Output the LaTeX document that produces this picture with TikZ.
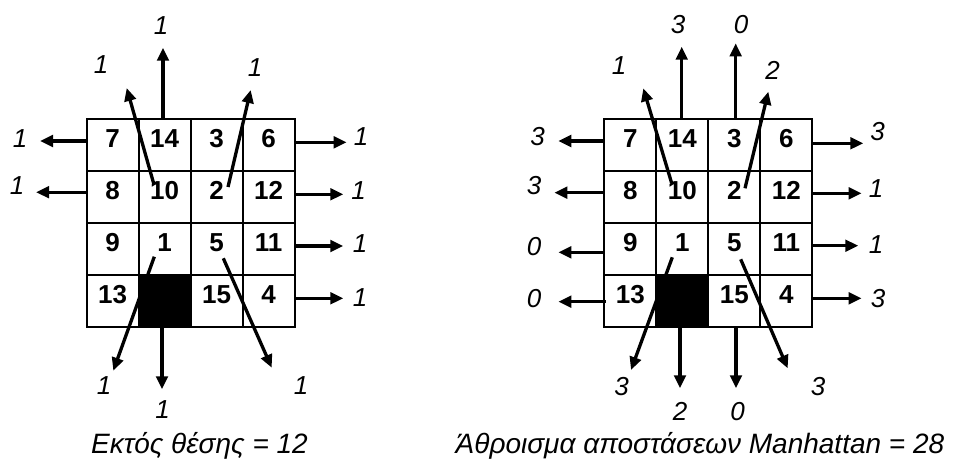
\documentclass[tikz,border=0pt]{standalone}
\usepackage{fontspec}
\setmainfont{Liberation Sans}
\usepackage{tikz}
\usetikzlibrary{arrows.meta}

\begin{document}
\begin{tikzpicture}[x=1pt,y=-1pt,
  cell/.style={draw,line width=2pt,minimum size=52pt,inner sep=0pt,
    font=\fontsize{26}{26}\selectfont\bfseries,text height=18.6pt,text depth=13pt},
  hole/.style={cell,fill=black},
  mv/.style={-{Triangle[length=13pt,width=11.5pt]},line width=3.3pt},
  num/.style={inner sep=0pt,font=\fontsize{26}{26}\selectfont\itshape},
  captxt/.style={inner sep=0pt,anchor=base,font=\fontsize{28}{28}\selectfont\itshape}]
  \useasboundingbox (0,0) rectangle (957,460);

  % misplaced tiles
  \node[cell] (L7)  at (112.7,144.7) {7};
  \node[cell] (L14) at (164.7,144.7) {14};
  \node[cell] (L3)  at (216.7,144.7) {3};
  \node[cell] (L6)  at (268.7,144.7) {6};
  \node[cell] (L8)  at (112.7,196.7) {8};
  \node[cell] (L10) at (164.7,196.7) {10};
  \node[cell] (L2)  at (216.7,196.7) {2};
  \node[cell] (L12) at (268.7,196.7) {12};
  \node[cell] (L9)  at (112.7,248.7) {9};
  \node[cell] (L1)  at (164.7,248.7) {1};
  \node[cell] (L5)  at (216.7,248.7) {5};
  \node[cell] (L11) at (268.7,248.7) {11};
  \node[cell] (L13) at (112.7,300.7) {13};
  \node[hole] (L0)  at (164.7,300.7) {};
  \node[cell] (L15) at (216.7,300.7) {15};
  \node[cell] (L4)  at (268.7,300.7) {4};

  \coordinate (tL7)  at (40,141);
  \coordinate (tL8)  at (36,192.2);
  \coordinate (tL6)  at (346.7,142.3);
  \coordinate (tL12) at (343.3,194.3);
  \coordinate (tL11) at (343.3,246);
  \coordinate (tL4)  at (343.3,298.3);
  \coordinate (tL14) at (163,47.7);
  \coordinate (tL0)  at (162,389.3);
  \coordinate (tL10) at (126.7,88);
  \coordinate (tL2)  at (250.7,90);
  \coordinate (tL1)  at (113.3,370.7);
  \coordinate (tL5)  at (271.7,367.7);

  \draw[mv] ([shift={(0,-3.7)}]L7.west) -- (tL7);
  \draw[mv] ([shift={(0,-4.5)}]L8.west) -- (tL8);
  \draw[mv] ([shift={(0,-2.4)}]L6.east) -- (tL6);
  \draw[mv] ([shift={(0,-2.4)}]L12.east) -- (tL12);
  \draw[mv] ([shift={(0,-2.7)}]L11.east) -- (tL11);
  \draw[mv] ([shift={(0,-2.4)}]L4.east) -- (tL4);
  \draw[mv] ([shift={(-1.7,0)}]L14.north) -- (tL14);
  \draw[mv] ([shift={(-2.7,0)}]L0.south) -- (tL0);
  \draw[mv] ([shift={(-10.6,-11.7)}]L10.center) -- (tL10);
  \draw[mv] ([shift={(11.3,-9.7)}]L2.center) -- (tL2);
  \draw[mv] ([shift={(-10.4,8)}]L1.center) -- (tL1);
  \draw[mv] ([shift={(6.6,9.6)}]L5.center) -- (tL5);

  \node[num] (nL7)  at (20,138.5) {1};
  \node[num] (nL8)  at (17,186) {1};
  \node[num] (nL6)  at (361,137) {1};
  \node[num] (nL12) at (358.5,191) {1};
  \node[num] (nL11) at (360,244) {1};
  \node[num] (nL4)  at (360,298) {1};
  \node[num] (nL14) at (161,26) {1};
  \node[num] (nL0)  at (162.5,410) {1};
  \node[num] (nL10) at (101,65) {1};
  \node[num] (nL2)  at (255,68) {1};
  \node[num] (nL1)  at (104,386) {1};
  \node[num] (nL5)  at (301,386) {1};
  \node[captxt] (capL) at (199.5,453) {Εκτός θέσης = 12};

  % Manhattan distances
  \node[cell] (R7)  at (630.3,144.7) {7};
  \node[cell] (R14) at (682.3,144.7) {14};
  \node[cell] (R3)  at (734.3,144.7) {3};
  \node[cell] (R6)  at (786.3,144.7) {6};
  \node[cell] (R8)  at (630.3,196.7) {8};
  \node[cell] (R10) at (682.3,196.7) {10};
  \node[cell] (R2)  at (734.3,196.7) {2};
  \node[cell] (R12) at (786.3,196.7) {12};
  \node[cell] (R9)  at (630.3,248.7) {9};
  \node[cell] (R1)  at (682.3,248.7) {1};
  \node[cell] (R5)  at (734.3,248.7) {5};
  \node[cell] (R11) at (786.3,248.7) {11};
  \node[cell] (R13) at (630.3,300.7) {13};
  \node[hole] (R0)  at (682.3,300.7) {};
  \node[cell] (R15) at (734.3,300.7) {15};
  \node[cell] (R4)  at (786.3,300.7) {4};

  \coordinate (tR7)  at (558.3,141);
  \coordinate (tR8)  at (554.3,192.7);
  \coordinate (tR9)  at (558.3,252.3);
  \coordinate (tR13) at (558.3,301.7);
  \coordinate (tR6)  at (863.3,143.3);
  \coordinate (tR12) at (861.7,193.3);
  \coordinate (tR11) at (858.3,245.7);
  \coordinate (tR4)  at (861.7,298.3);
  \coordinate (tR14) at (681.7,46.7);
  \coordinate (tR3)  at (735.7,43.3);
  \coordinate (tR0)  at (680,388.3);
  \coordinate (tR15) at (736,388.3);
  \coordinate (tR10) at (643.3,88.3);
  \coordinate (tR2)  at (768.3,91.7);
  \coordinate (tR1)  at (631,370);
  \coordinate (tR5)  at (787.7,368.3);

  \draw[mv] ([shift={(0,-3.7)}]R7.west) -- (tR7);
  \draw[mv] ([shift={(0,-4)}]R8.west) -- (tR8);
  \draw[mv] ([shift={(0,3.6)}]R9.west) -- (tR9);
  \draw[mv] ([shift={(2.4,1)}]R13.west) -- (tR13);
  \draw[mv] ([shift={(0,-1.4)}]R6.east) -- (tR6);
  \draw[mv] ([shift={(0,-3.4)}]R12.east) -- (tR12);
  \draw[mv] ([shift={(0,-3)}]R11.east) -- (tR11);
  \draw[mv] ([shift={(0,-2.4)}]R4.east) -- (tR4);
  \draw[mv] ([shift={(-0.6,0)}]R14.north) -- (tR14);
  \draw[mv] ([shift={(1.4,0)}]R3.north) -- (tR3);
  \draw[mv] ([shift={(-2.3,0)}]R0.south) -- (tR0);
  \draw[mv] ([shift={(1.7,0)}]R15.south) -- (tR15);
  \draw[mv] ([shift={(-10.6,-13.4)}]R10.center) -- (tR10);
  \draw[mv] ([shift={(10.7,-8.4)}]R2.center) -- (tR2);
  \draw[mv] ([shift={(-10,8.6)}]R1.center) -- (tR1);
  \draw[mv] ([shift={(6.4,10.6)}]R5.center) -- (tR5);

  \node[num] (nR7)  at (537.5,137) {3};
  \node[num] (nR8)  at (534,186) {3};
  \node[num] (nR9)  at (534,246.5) {0};
  \node[num] (nR13) at (534,298.7) {0};
  \node[num] (nR6)  at (877.5,132) {3};
  \node[num] (nR12) at (876,189) {1};
  \node[num] (nR11) at (876,245) {1};
  \node[num] (nR4)  at (878,299) {3};
  \node[num] (nR14) at (678,25) {3};
  \node[num] (nR3)  at (741,25) {0};
  \node[num] (nR0)  at (680,411.7) {2};
  \node[num] (nR15) at (737.5,411.7) {0};
  \node[num] (nR10) at (619,66) {1};
  \node[num] (nR2)  at (772.5,70) {2};
  \node[num] (nR1)  at (621.7,386.7) {3};
  \node[num] (nR5)  at (818,386.7) {3};
  \node[captxt] (capR) at (700,453) {Άθροισμα αποστάσεων Manhattan = 28};
\end{tikzpicture}
\end{document}
